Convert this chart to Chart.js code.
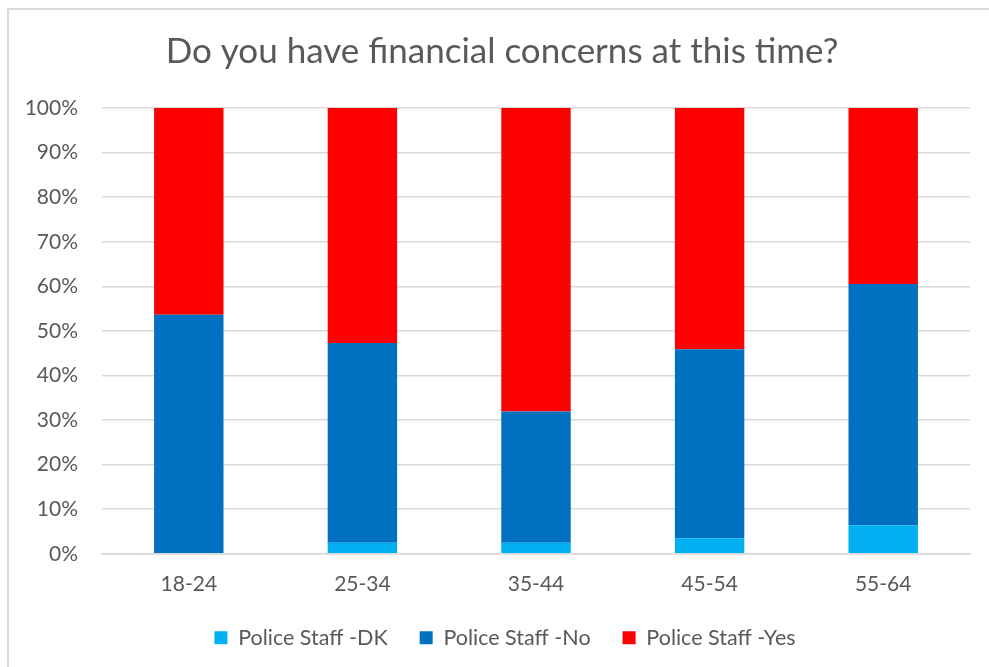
<!DOCTYPE html>
<html>
<head>
<meta charset="utf-8">
<script src="https://cdn.jsdelivr.net/npm/chart.js@4"></script>
<style>
  body { margin: 0; background: #fff; }
  #wrap { position: relative; width: 989px; height: 667px; overflow: hidden; }
  #frame { position: absolute; left: 7px; top: 8px; width: 1100px; height: 800px;
           border-left: 2px solid #d9d9d9; border-top: 2px solid #d9d9d9; }
  #chart { position: absolute; left: 0; top: 0; }
</style>
</head>
<body>
<div id="wrap">
  <div id="frame"></div>
  <canvas id="chart" width="989" height="667"></canvas>
</div>
<script>
// Share of police staff answering each way, by age band (percent)
const ageBands = ['18-24', '25-34', '35-44', '45-54', '55-64'];
const staffDK  = [0, 2.5, 2.5, 3.5, 6.4];
const staffNo  = [53.6, 44.8, 29.4, 42.4, 54.1];
const staffYes = [46.4, 52.7, 68.1, 54.1, 39.5];
const yTicks = [0, 10, 20, 30, 40, 50, 60, 70, 80, 90, 100];

const font = 'Lato, "Open Sans", sans-serif';
const grey = '#595959';

// wide gaps between legend items, but a shorter legend box than the padding gives;
// title and legend sit centred on the frame rather than the canvas
const blockPlacement = {
    id: 'blockPlacement',
    beforeInit(chart) {
        const fit = chart.legend.fit;
        chart.legend.fit = function() {
            fit.call(this);
            this.height = 60;
        };
    },
    afterLayout(chart) {
        const legend = chart.legend;
        legend.top -= 12;
        legend.bottom -= 12;
        legend.left += 20;
        legend.right += 20;
        chart.titleBlock.left += 17;
        chart.titleBlock.right += 17;
    }
};

const ctx = document.getElementById('chart').getContext('2d');
const myChart = new Chart(ctx, {
    type: 'bar',
    data: {
        labels: ageBands,
        datasets: [
            { label: 'Police Staff -DK', data: staffDK, backgroundColor: '#00B0F0' },
            { label: 'Police Staff -No', data: staffNo, backgroundColor: '#0070C0' },
            { label: 'Police Staff -Yes', data: staffYes, backgroundColor: '#FF0000' }
        ]
    },
    plugins: [blockPlacement],
    options: {
        responsive: false,
        animation: false,
        layout: { padding: { top: 20, right: 19, bottom: 0, left: 0 } },
        datasets: { bar: { categoryPercentage: 1, barPercentage: 0.4 } },
        plugins: {
            title: {
                display: true,
                text: 'Do you have financial concerns at this time?',
                color: grey,
                font: { family: font, size: 35, weight: 'normal' },
                padding: { top: 11, bottom: 35 }
            },
            legend: {
                position: 'bottom',
                labels: {
                    color: grey,
                    font: { family: font, size: 21.5 },
                    boxWidth: 13,
                    boxHeight: 13,
                    padding: 32
                }
            },
            tooltip: { enabled: false }
        },
        scales: {
            x: {
                stacked: true,
                grid: { display: false },
                border: { color: '#d9d9d9', width: 1.5 },
                ticks: { color: grey, font: { family: font, size: 21 }, padding: 10 }
            },
            y: {
                stacked: true,
                min: 0,
                max: 100,
                afterFit: function(scale) { scale.width = 102; },
                afterBuildTicks: function(scale) {
                    scale.ticks = yTicks.map(v => ({ value: v }));
                },
                grid: { color: '#d9d9d9', lineWidth: 1.5, drawTicks: false },
                border: { display: false },
                ticks: {
                    color: grey,
                    font: { family: font, size: 21 },
                    padding: 24,
                    callback: function(value) { return value + '%'; }
                }
            }
        }
    }
});
</script>
</body>
</html>
